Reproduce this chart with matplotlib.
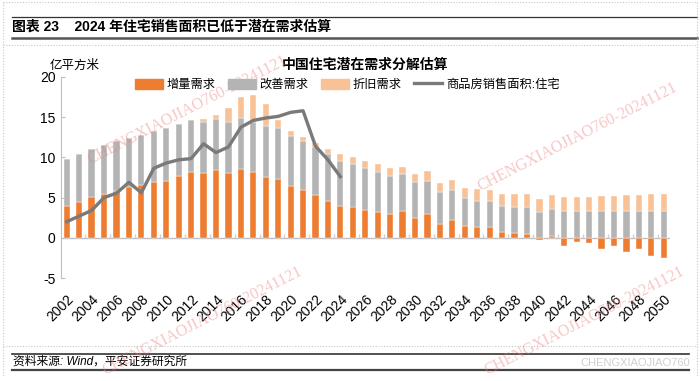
import matplotlib
matplotlib.use("Agg")
import matplotlib.pyplot as plt
from matplotlib.lines import Line2D
from matplotlib.patches import Patch
import numpy as np

plt.rcParams['font.family'] = ['Liberation Sans', 'Noto Sans CJK SC', 'DejaVu Sans']
plt.rcParams['axes.unicode_minus'] = False

years = list(range(2002, 2051))
# 增量需求 (亿平方米)
incremental = [4.0, 4.5, 5.1, 5.5, 5.8, 6.3, 6.6, 6.9, 7.1, 7.7,
               8.2, 8.0, 8.4, 8.0, 8.5, 8.2, 7.6, 7.3, 6.5, 5.9,
               5.3, 4.6, 4.0, 3.8, 3.5, 3.2, 2.9, 3.3, 2.5, 2.9,
               1.7, 2.2, 1.5, 1.4, 1.3, 0.7, 0.6, 0.5, -0.3, 0.25,
               -1.0, -0.55, -0.65, -1.35, -1.0, -1.8, -1.4, -2.25, -2.55]
# 改善需求
improvement = [5.8, 5.9, 5.9, 6.0, 6.2, 6.1, 6.2, 6.4, 6.5, 6.5,
               6.5, 6.4, 6.4, 6.4, 6.4, 6.2, 6.3, 6.3, 6.1, 6.1,
               6.0, 5.8, 5.6, 5.4, 5.2, 5.0, 4.8, 4.6, 4.4, 4.2,
               4.0, 3.7, 3.5, 3.2, 3.25, 3.2, 3.2, 3.3, 3.2, 3.3,
               3.3, 3.3, 3.3, 3.3, 3.35, 3.35, 3.35, 3.35, 3.35]
# 折旧需求
depreciation = [0, 0, 0, 0, 0, 0, 0, 0, 0, 0,
                0, 0.35, 0.5, 1.7, 2.6, 3.4, 2.8, 1.1, 0.7, 0.5,
                0.5, 0.7, 0.8, 0.8, 0.9, 1.0, 0.95, 0.95, 1.05, 1.2,
                1.1, 1.3, 1.2, 1.45, 1.4, 1.55, 1.6, 1.65, 1.65, 1.8,
                1.75, 1.75, 1.8, 1.9, 1.85, 2.0, 2.0, 2.1, 2.1]
# 商品房销售面积:住宅 (2002-2024)
sales = [2.0, 2.7, 3.4, 5.0, 5.55, 6.9, 5.6, 8.65, 9.3, 9.7,
         9.85, 11.7, 10.6, 11.3, 13.75, 14.6, 14.9, 15.1, 15.6, 15.8,
         11.4, 9.7, 7.6]

c_inc = '#ED7D31'
c_imp = '#B4B4B4'
c_dep = '#F9C296'
c_line = '#7A7A7A'

fig = plt.figure(figsize=(7, 3.81), dpi=100)
ax = fig.add_axes([61 / 700, 1 - 278 / 381, 609 / 700, 201 / 381])

x = np.arange(len(years))
inc = np.array(incremental)
imp = np.array(improvement)
dep = np.array(depreciation)
base = np.clip(inc, 0, None)

w = 0.5
ax.bar(x, inc, w, color=c_inc, edgecolor='white', linewidth=0.3, zorder=2)
ax.bar(x, imp, w, bottom=base, color=c_imp, edgecolor='white', linewidth=0.3, zorder=2)
ax.bar(x, dep, w, bottom=base + imp, color=c_dep, edgecolor='white', linewidth=0.3, zorder=2)
ax.plot(x[:len(sales)], sales, color=c_line, lw=2.4, zorder=3, solid_joinstyle='round')

ax.axhline(0, color='#BFBFBF', lw=1, zorder=1)
# small category separators on the zero line
ax.vlines(np.arange(1.5, len(years) - 1, 2), 0, 0.45, color='#D0D0D0', lw=1, zorder=1)

ax.set_xlim(-0.46, len(years) - 0.5)
ax.set_ylim(-5, 20)
ax.set_yticks([-5, 0, 5, 10, 15, 20])
ax.set_yticklabels(['-5', '0', '5', '10', '15', '20'], fontsize=10)
ax.set_xticks(x[::2])
ax.set_xticklabels([str(y) for y in years[::2]], rotation=45, ha='right', va='top',
                   rotation_mode='anchor', fontsize=10)
ax.tick_params(axis='x', length=0, pad=10)
ax.tick_params(axis='y', length=3, direction='in', color='#BFBFBF', pad=4)
for s in ['top', 'right', 'bottom']:
    ax.spines[s].set_visible(False)
ax.spines['left'].set_color('#BFBFBF')
ax.patch.set_alpha(0)

handles = [Patch(color=c_inc), Patch(color=c_imp), Patch(color=c_dep),
           Line2D([], [], color=c_line, lw=2.4)]
labels = ['增量需求', '改善需求', '折旧需求', '商品房销售面积:住宅']
fig.legend(handles, labels, loc='center left', bbox_to_anchor=(124 / 700, 1 - 85 / 381),
           ncol=4, frameon=False, fontsize=8.8, handlelength=2.3, handleheight=0.9,
           columnspacing=1.0, handletextpad=0.3)

fig.text(365 / 700, 1 - 65 / 381, '中国住宅潜在需求分解估算', ha='center', va='center',
         fontsize=10, fontweight='bold')
fig.text(50 / 700, 1 - 66 / 381, '亿平方米', ha='left', va='center', fontsize=9)

# header
fig.text(12 / 700, 1 - 27 / 381, '图表 23    2024 年住宅销售面积已低于潜在需求估算',
         ha='left', va='center', fontsize=10, fontweight='bold')
fig.add_artist(Line2D([12 / 700, 697 / 700], [1 - 17 / 381] * 2, color='#333333', lw=0.9))
fig.add_artist(Line2D([12 / 700, 697 / 700], [1 - 38 / 381] * 2, color='#555555', lw=1.8))
# footer
fig.add_artist(Line2D([12 / 700, 689 / 700], [1 - 354 / 381] * 2, color='#333333', lw=1.2))
fig.add_artist(Line2D([12 / 700, 689 / 700], [1 - 370 / 381] * 2, color='#444444', lw=1.6))
fig.text(13 / 700, 1 - 362 / 381, '资料来源: Wind，平安证券研究所', ha='left', va='center',
         fontsize=8.5, style='italic')
fig.text(690 / 700, 1 - 363 / 381, 'CHENGXIAOJIAO760', ha='right', va='center',
         fontsize=8, color='#CFCFCF')

# dotted frame
for yy in [2, 45, 346]:
    fig.add_artist(Line2D([3 / 700, 697 / 700], [1 - yy / 381] * 2, color='#C8C8C8',
                          lw=0.8, ls=(0, (1, 1.5))))
for xx in [3, 697]:
    fig.add_artist(Line2D([xx / 700] * 2, [1 - 2 / 381, 1 - 376 / 381], color='#C8C8C8',
                          lw=0.8, ls=(0, (1, 1.5))))

# watermarks
wm = 'CHENGXIAOJIAO760-20241121'
for (wx, wy) in [(85, 168), (475, 195), (100, 379), (482, 379)]:
    fig.text(wx / 700, 1 - wy / 381, wm, rotation=27, ha='left', va='bottom',
             fontsize=11.5, color='#F08080', alpha=0.45, family='Liberation Serif')

fig.savefig('out.png', dpi=100)
